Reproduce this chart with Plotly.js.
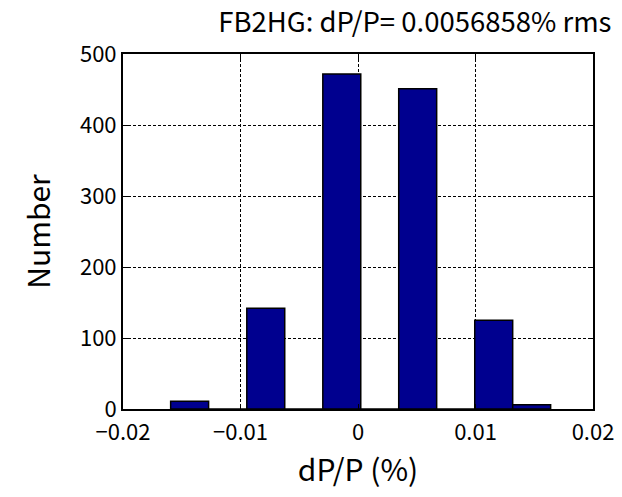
<!DOCTYPE html>
<html>
<head>
<meta charset="utf-8">
<script src="https://cdn.plot.ly/plotly-3.0.1.min.js"></script>
<style>html,body{margin:0;padding:0;background:#fff;}#chart{width:622px;height:497px;}</style>
</head>
<body>
<div id="chart"></div>
<script>
// Histogram bin centres (dP/P in %) and counts
const binCenters = [-0.01433, -0.01109, -0.00785, -0.00462, -0.00138, 0.00185, 0.00508, 0.00831, 0.01155, 0.01478];
const counts     = [11, 0, 142, 0, 472, 0, 451, 0, 125, 6];
const binWidth = 0.00323;
const xTicks = [-0.02, -0.01, 0, 0.01, 0.02];
const xTickText = ['\u22120.02', '\u22120.01', '0', '0.01', '0.02'];
const yTicks = [0, 100, 200, 300, 400, 500];

const font = "'Noto Sans CJK JP', 'Liberation Sans', Arial, sans-serif";

const trace = {
  type: 'bar',
  x: binCenters,
  y: counts,
  width: binWidth,
  marker: {color: '#00008f', line: {color: '#000', width: 1.5}},
  hoverinfo: 'x+y'
};

const layout = {
  width: 622, height: 497,
  margin: {l: 123, r: 29, t: 54, b: 88},
  paper_bgcolor: '#fff', plot_bgcolor: '#fff',
  font: {family: font, color: '#000', size: 23},
  showlegend: false,
  title: {text: 'FB2HG: dP/P= 0.0056858% rms', font: {family: font, size: 27.5, color: '#000'},
          x: 0.667, xanchor: 'center', y: 0.955, yanchor: 'middle'},
  xaxis: {
    range: [-0.02, 0.02], tickvals: xTicks, ticktext: xTickText,
    showgrid: true, gridcolor: '#000', griddash: '3px,2px', gridwidth: 1,
    showline: true, mirror: 'ticks', linecolor: '#000', linewidth: 2,
    ticks: 'inside', ticklen: 5, tickcolor: '#000', tickwidth: 1,
    zeroline: false, tickfont: {size: 22}, ticklabelstandoff: 3,
    title: {text: 'dP/P (%)', font: {size: 30}, standoff: 6}
  },
  yaxis: {
    range: [0, 500], tickvals: yTicks,
    showgrid: true, gridcolor: '#000', griddash: '3px,2px', gridwidth: 1,
    showline: true, mirror: 'ticks', linecolor: '#000', linewidth: 2,
    ticks: 'inside', ticklen: 5, tickcolor: '#000', tickwidth: 1,
    zeroline: false, tickfont: {size: 22},
    title: {text: 'Number', font: {size: 30}, standoff: 20}
  },
  bargap: 0
};

Plotly.newPlot('chart', [trace], layout, {displayModeBar: false, staticPlot: true});
</script>
</body>
</html>
